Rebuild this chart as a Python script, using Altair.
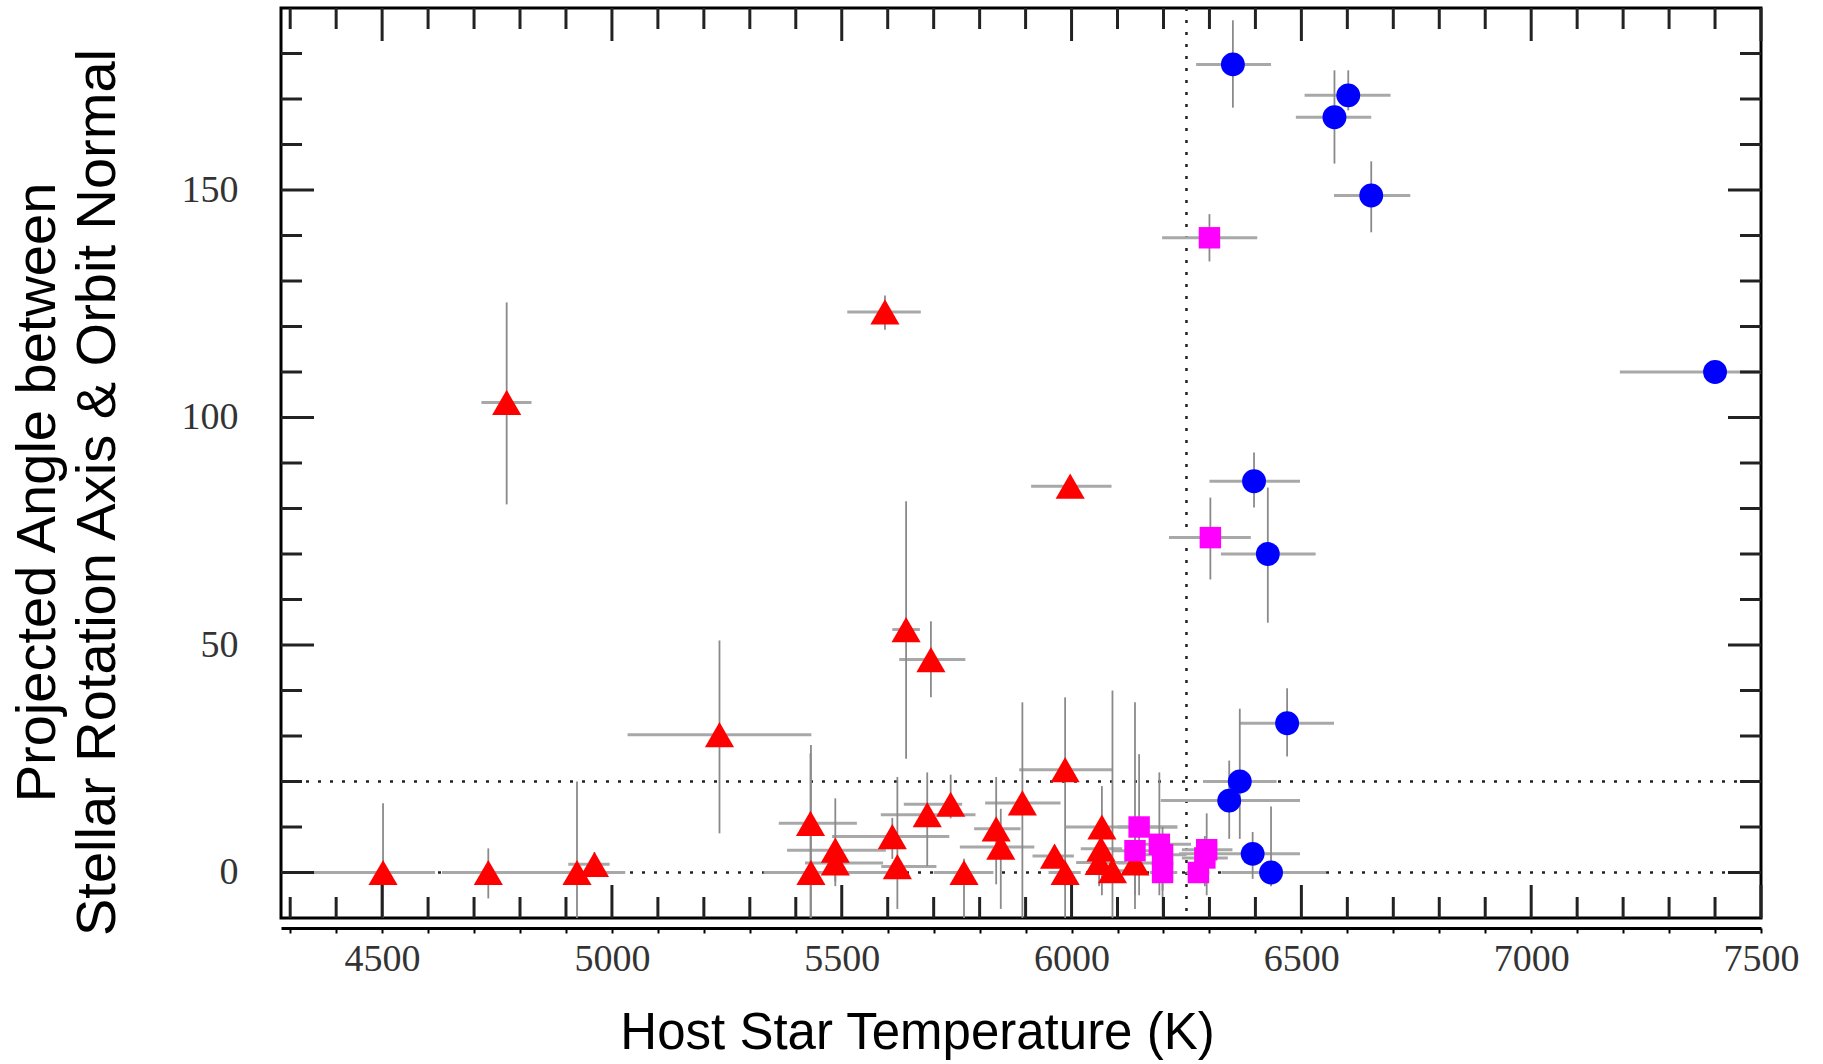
import altair as alt
import pandas as pd

# ---------------- data ----------------
# red triangles: T, angle, T low, T high, angle low, angle high
red_T    = [4502, 4731, 4771, 4924, 4962, 5234, 5594, 5432, 5433, 5486, 5486, 5610, 5621, 5686, 5737,
            5766, 5836, 5846, 5893, 5986, 5963, 5986, 6066, 6064, 6060, 6089, 6138, 5997, 5640, 5694]
red_A    = [0, 0, 103.3, 0, 1.8, 30.3, 123.2, 10.8, 0, 4.9, 2.1, 7.9, 1.3, 12.7, 15,
            0, 9.6, 5.6, 15.3, 22.6, 3.6, 0, 10, 5.2, 2.2, 0.4, 2.1, 84.9, 53.4, 46.8]
red_Tlo  = [4346, 4630, 4716, 4828, 4905, 5034, 5512, 5363, 5330, 5381, 5420, 5479, 5586, 5585, 5635,
            5700, 5788, 5757, 5812, 5886, 5915, 5950, 5987, 6020, 6010, 6040, 6100, 5912, 5610, 5625]
red_Thi  = [4615, 4830, 4825, 5029, 4995, 5434, 5672, 5533, 5600, 5596, 5590, 5734, 5706, 5791, 5762,
            5830, 5889, 5919, 5976, 6089, 6005, 6020, 6230, 6110, 6120, 6140, 6180, 6087, 5670, 5769]
red_Alo  = [-10, -5.7, 80.9, -10, -1, 8.6, 119.3, -10, -10, -3, -2, 3, -8, 1.4, 11.9,
            -10, -2.6, -8, -10, -10, 1, -3, -5, 0, -3, -10, -5, 83, 25, 38.5]
red_Ahi  = [15.2, 5.3, 125.3, 20, 4.5, 51, 126.8, 26.2, 28, 16.3, 6, 12, 21, 22, 21.5,
            3, 21, 14, 37.4, 38.5, 6, 3, 19, 10, 7, 40, 37.4, 87, 81.6, 55.2]

# magenta squares
mag_T    = [6300, 6302, 6147, 6138, 6191, 6198, 6198, 6294, 6290, 6276]
mag_A    = [139.5, 73.6, 10, 4.8, 6.2, 3.9, 0, 5, 3.2, 0]
mag_Tlo  = [6197, 6212, 6100, 6090, 6150, 6150, 6170, 6240, 6240, 6250]
mag_Thi  = [6404, 6390, 6230, 6190, 6260, 6250, 6230, 6350, 6340, 6300]
mag_Alo  = [134.3, 64.4, -5, -8, -5, -10, -4, -5, -3, -2]
mag_Ahi  = [144.7, 82.4, 26, 12, 22, 10, 4, 13, 8, 3]

# blue circles
blue_T   = [6351, 6602, 6572, 6652, 7400, 6397, 6427, 6469, 6366, 6343, 6394, 6434]
blue_A   = [177.6, 170.8, 166.0, 148.8, 110, 86, 70, 32.8, 20, 15.8, 4.1, 0]
blue_Tlo = [6271, 6507, 6488, 6571, 7193, 6300, 6325, 6366, 6286, 6194, 6234, 6326]
blue_Thi = [6434, 6694, 6652, 6737, 7600, 6497, 6531, 6571, 6446, 6497, 6497, 6554]
blue_Alo = [168.1, 167.5, 155.8, 140.7, 108, 80.2, 54.9, 25.5, 7.4, 7.4, -1.4, -3]
blue_Ahi = [187.3, 176.3, 176.3, 156.3, 112, 92.3, 84.6, 40.5, 36, 24.6, 8.9, 14.5]

ref_T = [6250]
ref_A = [0, 20]

x_ticks_major = [4500, 5000, 5500, 6000, 6500, 7000, 7500]
x_ticks_minor = [v for v in range(4300, 7500, 100) if v % 500 != 0]
x_axis_values = list(range(4300, 7600, 100))
y_ticks_major = [0, 50, 100, 150]
y_ticks_minor = [v for v in range(10, 190, 10) if v % 50 != 0]

x_title = "Host Star Temperature (K)"
y_title = ["Projected Angle between", "Stellar Rotation Axis & Orbit Normal"]

# ---------------- build tables ----------------
def group(name, T, A, Tlo, Thi, Alo, Ahi):
    return pd.DataFrame({"T": T, "A": A, "Tlo": Tlo, "Thi": Thi, "Alo": Alo, "Ahi": Ahi, "g": name})

df_red = group("red", red_T, red_A, red_Tlo, red_Thi, red_Alo, red_Ahi)
df_mag = group("magenta", mag_T, mag_A, mag_Tlo, mag_Thi, mag_Alo, mag_Ahi)
df_blue = group("blue", blue_T, blue_A, blue_Tlo, blue_Thi, blue_Alo, blue_Ahi)
df = pd.concat([df_red, df_mag, df_blue], ignore_index=True)

W, H = 1480, 910
XS = alt.Scale(domain=[4280, 7500], nice=False, zero=False)
YS = alt.Scale(domain=[-10, 190], nice=False, zero=False)

X_AX = alt.Axis(
    orient="bottom", offset=10, values=x_axis_values,
    labelExpr="datum.value % 500 == 0 ? format(datum.value, 'd') : ''",
    domain=True, domainColor="#000", domainWidth=3,
    ticks=True, tickSize=5, tickWidth=2, tickColor="#000",
    grid=False, labelFont="Liberation Serif", labelFontSize=38, labelColor="#333",
    labelPadding=7, labelOverlap=False, labelFlush=False,
    title=x_title, titleFont="Liberation Sans", titleFontSize=51, titleFontWeight="normal",
    titleColor="#000", titleX=636, titleY=120, titleAlign="center", titleBaseline="alphabetic",
)
Y_AX = alt.Axis(
    orient="left", values=y_ticks_major, domain=False, ticks=False, grid=False,
    labelFont="Liberation Serif", labelFontSize=38, labelColor="#333", labelPadding=43,
    labelOverlap=False, labelFlush=False,
    title=y_title, titleFont="Liberation Sans", titleFontSize=56, titleFontWeight="normal",
    titleColor="#000", titleX=-227, titleY=484, titleAngle=270, titleAlign="center",
    titleBaseline="alphabetic", titleLineHeight=60,
)

base = alt.Chart(df)

# reference dotted lines
vref = alt.Chart(pd.DataFrame({"T": ref_T})).mark_rule(
    color="#222", strokeWidth=2.5, strokeDash=[3, 9]
).encode(x=alt.X("T:Q", scale=XS, axis=X_AX))
href = alt.Chart(pd.DataFrame({"A": ref_A})).mark_rule(
    color="#222", strokeWidth=2.5, strokeDash=[3, 9]
).encode(y=alt.Y("A:Q", scale=YS, axis=Y_AX))

# error bars
herr = base.mark_rule(color="#a8a8a8", strokeWidth=3, clip=True).encode(
    x=alt.X("Tlo:Q", scale=XS, axis=X_AX), x2="Thi:Q",
    y=alt.Y("A:Q", scale=YS, axis=Y_AX),
)
verr = base.mark_rule(color="#8a8a8a", strokeWidth=1.8, clip=True).encode(
    x=alt.X("T:Q", scale=XS, axis=X_AX),
    y=alt.Y("Alo:Q", scale=YS, axis=Y_AX), y2="Ahi:Q",
)

# points: one layer per group
def points(d, shape, color, size):
    return alt.Chart(d).mark_point(filled=True, opacity=1, strokeWidth=0,
                                   shape=shape, color=color, size=size).encode(
        x=alt.X("T:Q", scale=XS, axis=X_AX),
        y=alt.Y("A:Q", scale=YS, axis=Y_AX),
    )

pts_red = points(df_red, "triangle-up", "#ff0000", 850)
pts_mag = points(df_mag, "square", "#ff00ff", 460)
pts_blue = points(df_blue, "circle", "#0000ff", 570)

# inward frame ticks
def xticks(vals, L):
    d = alt.Chart(pd.DataFrame({"T": vals}))
    bottom = d.mark_rule(color="#222", strokeWidth=3).encode(
        x=alt.X("T:Q", scale=XS, axis=X_AX), y=alt.value(H), y2=alt.value(H - L))
    top = d.mark_rule(color="#222", strokeWidth=3).encode(
        x=alt.X("T:Q", scale=XS, axis=X_AX), y=alt.value(0), y2=alt.value(L))
    return [bottom, top]

def yticks(vals, L):
    d = alt.Chart(pd.DataFrame({"A": vals}))
    left = d.mark_rule(color="#222", strokeWidth=3).encode(
        y=alt.Y("A:Q", scale=YS, axis=Y_AX), x=alt.value(0), x2=alt.value(L))
    right = d.mark_rule(color="#222", strokeWidth=3).encode(
        y=alt.Y("A:Q", scale=YS, axis=Y_AX), x=alt.value(W), x2=alt.value(W - L))
    return [left, right]

tick_layers = xticks(x_ticks_minor, 21) + xticks(x_ticks_major, 33) + \
    yticks(y_ticks_minor, 21) + yticks(y_ticks_major, 33)

chart = alt.layer(vref, href, herr, verr, pts_red, pts_mag, pts_blue, *tick_layers).properties(
    width=W, height=H,
    autosize=alt.AutoSizeParams(type="none"),
    padding={"left": 281, "top": 8, "right": 62, "bottom": 146},
    background="white",
).configure_view(stroke="#000", strokeWidth=3)

chart.save("out.html", embed_options={"renderer": "svg", "actions": False})
